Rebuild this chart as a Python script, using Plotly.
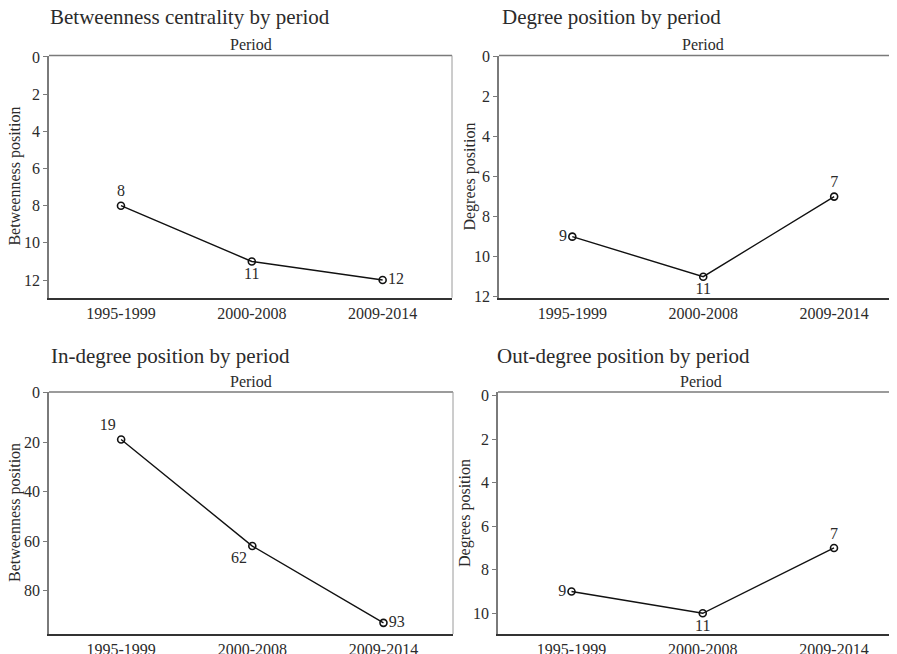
import plotly.graph_objects as go

# ---- data ----
periods = ["1995-1999", "2000-2008", "2009-2014"]

betweenness_vals = [8, 11, 12]
betweenness_labels = ["8", "11", "12"]

degree_vals = [9, 11, 7]
degree_labels = ["9", "11", "7"]

indegree_vals = [19, 62, 93]
indegree_labels = ["19", "62", "93"]

outdegree_vals = [9, 10, 7]
outdegree_labels = ["9", "11", "7"]

panel_titles = [
    "Betweenness centrality by period",
    "Degree position by period",
    "In-degree position by period",
    "Out-degree position by period",
]
y_titles = ["Betweenness position", "Degrees position", "Betweenness position", "Degrees position"]

W, H = 897, 654
OFF = 8  # page body margin offset compensation
FONT = "Liberation Serif"
TXT = "#2b2b2b"

def px_x(v):
    return (v - OFF) / W

def px_y(v):
    return (H - (v - OFF)) / H

# pixel boxes in window coordinates: (left, right, top, bottom)
boxes = [
    (49, 452, 55.5, 297.7),
    (499, 897, 55.5, 297.7),
    (49, 453, 392, 634),
    (498, 897, 392, 634),
]
xranges = [[-0.55, 2.53], [-0.56, 2.48], [-0.55, 2.53], [-0.56, 2.48]]
yranges = [[12.95, -0.08], [12.05, -0.05], [97.5, -0.2], [10.95, -0.16]]
ydticks = [2, 2, 20, 2]

series = [
    (betweenness_vals, betweenness_labels, ["top center", "bottom center", "middle right"]),
    (degree_vals, degree_labels, ["middle left", "bottom center", "top center"]),
    (indegree_vals, indegree_labels, ["top left", "bottom left", "middle right"]),
    (outdegree_vals, outdegree_labels, ["middle left", "bottom center", "top center"]),
]
title_pos = [(48, 17), (500, 17), (49, 356), (495, 356)]
period_pos = [(250.5, 45), (703, 45), (250.5, 381.5), (701, 381.5)]
ytitle_x = [15, 470, 15, 465]

fig = go.Figure()
annotations = []
shapes = []

for i in range(4):
    n = "" if i == 0 else str(i + 1)
    xa = "x" + n
    ya = "y" + n
    vals, labels, tpos = series[i]
    fig.add_trace(go.Scatter(
        x=periods, y=vals, text=labels, textposition=tpos,
        mode="lines+markers+text",
        line=dict(color="#111111", width=1.4),
        marker=dict(symbol="circle-open", size=7, color="#111111", line=dict(width=1.6)),
        textfont=dict(family=FONT, size=16, color=TXT),
        xaxis=xa, yaxis=ya, showlegend=False, cliponaxis=False,
    ))
    l, r, t, b = boxes[i]
    fig.layout["xaxis" + n] = dict(
        domain=[px_x(l), px_x(r)], anchor=ya, type="category",
        range=xranges[i], showgrid=False, zeroline=False, automargin=False,
        showline=True, linecolor="#333333", linewidth=1.6,
        ticks="", tickfont=dict(family=FONT, size=16, color=TXT),
    )
    fig.layout["yaxis" + n] = dict(
        domain=[px_y(b), px_y(t)], anchor=xa, automargin=False,
        range=yranges[i], showgrid=False, zeroline=False,
        tickmode="linear", tick0=0, dtick=ydticks[i],
        showline=True, linecolor="#7a7a7a", linewidth=1.6,
        ticks="outside", ticklen=4, tickcolor="#7a7a7a", tickwidth=1,
        tickfont=dict(family=FONT, size=16, color=TXT),
    )
    # top and right frame lines
    shapes.append(dict(type="line", xref=xa + " domain", yref=ya + " domain",
                       x0=0, x1=1, y0=1, y1=1, line=dict(color="#7a7a7a", width=1.6)))
    shapes.append(dict(type="line", xref=xa + " domain", yref=ya + " domain",
                       x0=1, x1=1, y0=0, y1=1, line=dict(color="#9a9a9a", width=1)))
    tx, ty = title_pos[i]
    annotations.append(dict(text=panel_titles[i], x=px_x(tx), y=px_y(ty), xref="paper", yref="paper",
                            xanchor="left", yanchor="middle", showarrow=False,
                            font=dict(family=FONT, size=21, color=TXT)))
    pxp, pyp = period_pos[i]
    annotations.append(dict(text="Period", x=px_x(pxp), y=px_y(pyp), xref="paper", yref="paper",
                            xanchor="center", yanchor="middle", showarrow=False,
                            font=dict(family=FONT, size=16, color=TXT)))
    annotations.append(dict(text=y_titles[i], x=px_x(ytitle_x[i]), y=px_y((t + b) / 2),
                            xref="paper", yref="paper", textangle=-90,
                            xanchor="center", yanchor="middle", showarrow=False,
                            font=dict(family=FONT, size=16, color=TXT)))

fig.update_layout(
    template="none",
    width=W, height=H,
    margin=dict(l=0, r=0, t=0, b=0, pad=0),
    paper_bgcolor="white", plot_bgcolor="white",
    annotations=annotations, shapes=shapes,
    font=dict(family=FONT, color=TXT),
)

fig.write_html("out.html")
